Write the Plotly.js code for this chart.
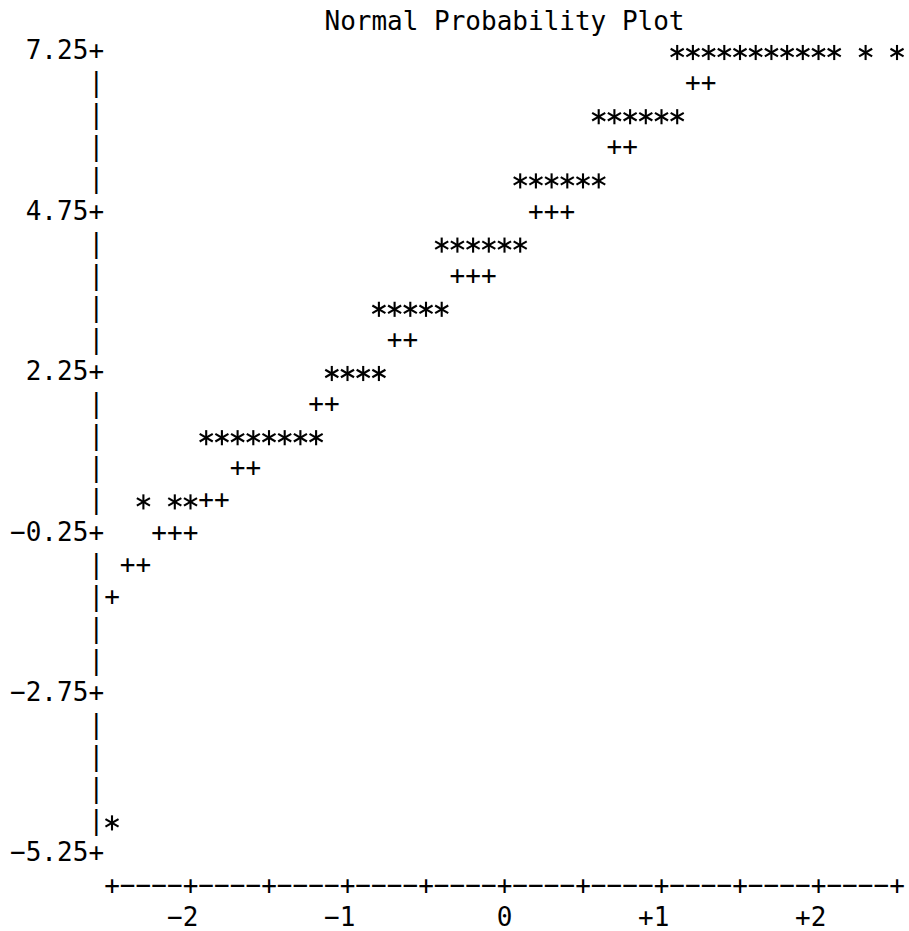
<!DOCTYPE html>
<html>
<head>
<meta charset="utf-8">
<script src="https://cdn.plot.ly/plotly-3.0.1.min.js"></script>
<style>html,body{margin:0;padding:0;background:#fff;}#chart{width:909px;height:931px;}</style>
</head>
<body>
<div id="chart"></div>
<script>
// ---- data ----
const chartTitle = 'Normal Probability Plot';
const yTickVals = [7.25, 4.75, 2.25, -0.25, -2.75, -5.25];
const yTickLabels = ['7.25', '4.75', '2.25', '\u22120.25', '\u22122.75', '\u22125.25'];
const xTickVals = [-2, -1, 0, 1, 2];
const xTickLabels = ['\u22122', '\u22121', '0', '+1', '+2'];
const xMinorTicks = [-2.5, -1.5, -0.5, 0.5, 1.5, 2.5];

// observed points ('*'), one row per y value
const starRowsY = [7.25, 6.25, 5.25, 4.25, 3.25, 2.25, 1.25, 0.25, -4.75];
const starRowsX = [
  [1.1, 1.2, 1.3, 1.4, 1.5, 1.6, 1.7, 1.8, 1.9, 2.0, 2.1, 2.3, 2.5],
  [0.6, 0.7, 0.8, 0.9, 1.0, 1.1],
  [0.1, 0.2, 0.3, 0.4, 0.5, 0.6],
  [-0.4, -0.3, -0.2, -0.1, 0.0, 0.1],
  [-0.8, -0.7, -0.6, -0.5, -0.4],
  [-1.1, -1.0, -0.9, -0.8],
  [-1.9, -1.8, -1.7, -1.6, -1.5, -1.4, -1.3, -1.2],
  [-2.3, -2.1, -2.0],
  [-2.5]
];
// reference line ('+')
const refRowsY = [6.75, 5.75, 4.75, 3.75, 2.75, 1.75, 0.75, 0.25, -0.25, -0.75, -1.25];
const refRowsX = [
  [1.2, 1.3],
  [0.7, 0.8],
  [0.2, 0.3, 0.4],
  [-0.3, -0.2, -0.1],
  [-0.7, -0.6],
  [-1.2, -1.1],
  [-1.7, -1.6],
  [-1.9, -1.8],
  [-2.2, -2.1, -2.0],
  [-2.4, -2.3],
  [-2.5]
];

// ---- text-grid geometry (style) ----
const CH = 0.1;          // one character cell along x
const ROW = 0.5;         // one text row along y
const AXIS_X = -2.6;     // column of the vertical axis
const X_AXIS_MIN = -2.5, X_AXIS_MAX = 2.5;
const FONT = {family: 'DejaVu Sans Mono, monospace', size: 26, color: '#000'};
const r1 = v => Math.round(v * 1000) / 1000;

function flatten(rowsY, rowsX) {
  const xs = [], ys = [];
  rowsY.forEach((y, i) => rowsX[i].forEach(x => { xs.push(x); ys.push(y); }));
  return {xs, ys};
}
const stars = flatten(starRowsY, starRowsX);
const refs = flatten(refRowsY, refRowsX);

// vertical axis
const yTop = Math.max(...yTickVals), yBot = Math.min(...yTickVals);
const axX = [], axY = [], axT = [];
for (let y = yTop; y >= yBot - 1e-9; y = r1(y - ROW)) {
  axX.push(AXIS_X); axY.push(y);
  axT.push(yTickVals.some(t => Math.abs(t - y) < 1e-9) ? '+' : '|');
}
// horizontal axis (one row below the lowest tick)
const xAxisY = r1(yBot - ROW);
for (let x = X_AXIS_MIN; x <= X_AXIS_MAX + 1e-9; x = r1(x + CH)) {
  axX.push(x); axY.push(xAxisY);
  const isTick = [...xTickVals, ...xMinorTicks].some(t => Math.abs(t - x) < 1e-9);
  axT.push(isTick ? '+' : '\u2212');
}
// y tick labels, right-aligned left of the axis
const lbX = [], lbY = [], lbT = [];
yTickVals.forEach((y, i) => {
  const s = [...yTickLabels[i]];
  s.forEach((c, k) => { lbX.push(r1(AXIS_X - CH * (s.length - k))); lbY.push(y); lbT.push(c); });
});
// x tick labels, right-aligned under the tick
const xLabelY = r1(xAxisY - ROW);
xTickVals.forEach((x, i) => {
  const s = [...xTickLabels[i]];
  s.forEach((c, k) => { lbX.push(r1(x - CH * (s.length - 1 - k))); lbY.push(xLabelY); lbT.push(c); });
});

const common = {type: 'scatter', mode: 'text', textposition: 'middle center',
  textfont: FONT, hoverinfo: 'skip', showlegend: false, cliponaxis: false};

// '*' drawn as a 6-armed asterisk: three thin strokes at 0, 60 and -60 degrees
const starArms = [0, 60, -60].map(a => ({
  type: 'scatter', mode: 'markers', x: stars.xs, y: stars.ys, name: 'data',
  hoverinfo: 'skip', showlegend: false, cliponaxis: false,
  marker: {symbol: 'line-ns-open', size: 10.8, angle: a, color: '#000', line: {width: 2.1, color: '#000'}}
}));

const traces = [
  Object.assign({}, common, {x: axX, y: axY, text: axT, name: 'axes'}),
  Object.assign({}, common, {x: lbX, y: lbY, text: lbT, name: 'labels'}),
  Object.assign({}, common, {x: refs.xs, y: refs.ys, text: refs.xs.map(() => '+'), name: 'reference'}),
  ...starArms
];

const layout = {
  width: 909, height: 931,
  margin: {l: 0, r: 0, t: 0, b: 0},
  paper_bgcolor: '#fff', plot_bgcolor: '#fff',
  title: {text: chartTitle, font: FONT, xref: 'paper', x: 504.5 / 909, xanchor: 'center',
          yref: 'container', y: 1 - 20.5 / 931, yanchor: 'middle'},
  xaxis: {visible: false, range: [-3.2134, 2.5764], fixedrange: true},
  yaxis: {visible: false, range: [-6.434, 8.068], fixedrange: true}
};

Plotly.newPlot('chart', traces, layout, {displayModeBar: false, staticPlot: true});
</script>
</body>
</html>
